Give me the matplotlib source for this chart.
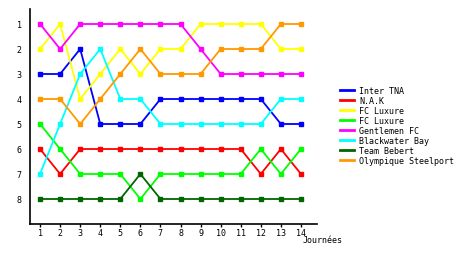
import matplotlib
matplotlib.use("Agg")
import matplotlib.pyplot as plt
from matplotlib.lines import Line2D

journees = list(range(1, 15))
teams = ["Inter TNA", "N.A.K", "FC Luxure", "FC Luxure", "Gentlemen FC",
         "Blackwater Bay", "Team Bebert", "Olympique Steelport"]
colors = ["#0000ff", "#ff0000", "#ffff00", "#00ff00", "#ff00ff",
          "#00ffff", "#006600", "#ff9900"]

inter_tna = [3, 3, 2, 5, 5, 5, 4, 4, 4, 4, 4, 4, 5, 5]
nak = [6, 7, 6, 6, 6, 6, 6, 6, 6, 6, 6, 7, 6, 7]
fc_luxure_y = [2, 1, 4, 3, 2, 3, 2, 2, 1, 1, 1, 1, 2, 2]
fc_luxure_g = [5, 6, 7, 7, 7, 8, 7, 7, 7, 7, 7, 6, 7, 6]
gentlemen = [1, 2, 1, 1, 1, 1, 1, 1, 2, 3, 3, 3, 3, 3]
blackwater = [7, 5, 3, 2, 4, 4, 5, 5, 5, 5, 5, 5, 4, 4]
bebert = [8, 8, 8, 8, 8, 7, 8, 8, 8, 8, 8, 8, 8, 8]
steelport = [4, 4, 5, 4, 3, 2, 3, 3, 3, 2, 2, 2, 1, 1]
series = [inter_tna, nak, fc_luxure_y, fc_luxure_g, gentlemen,
          blackwater, bebert, steelport]

plt.rcParams['font.family'] = ['DejaVu Sans Mono']
fig = plt.figure(figsize=(4.6, 2.55), dpi=100)
ax = fig.add_axes([30/460, 30/255, 287/460, 215/255])

for name, col, vals in zip(teams, colors, series):
    ax.plot(journees, vals, color=col, lw=1.3, marker='s', ms=2.2)

ax.set_xlim(0.5, 14.8)
ax.set_ylim(9, 0.4)
ax.set_xticks(journees)
ax.set_yticks(range(1, 9))
ax.tick_params(axis='x', length=2, width=1, labelsize=6, pad=1)
ax.tick_params(axis='y', length=0, labelsize=6, pad=6)
for s in ['top', 'right']:
    ax.spines[s].set_visible(False)
for s in ['left', 'bottom']:
    ax.spines[s].set_linewidth(1.2)

fig.text(303/460, 1 - 241/255, "Journées", fontsize=6, va='center')

# legend: plain line handles, no markers
handles = [Line2D([], [], color=c, lw=2) for c in colors]
fig.legend(handles, teams, loc='upper left', bbox_to_anchor=(336/460, 1 - 83/255),
           frameon=False, fontsize=6, handlelength=1.7, handletextpad=0.6,
           labelspacing=0.12, borderpad=0)

fig.savefig("out.png", dpi=100)
